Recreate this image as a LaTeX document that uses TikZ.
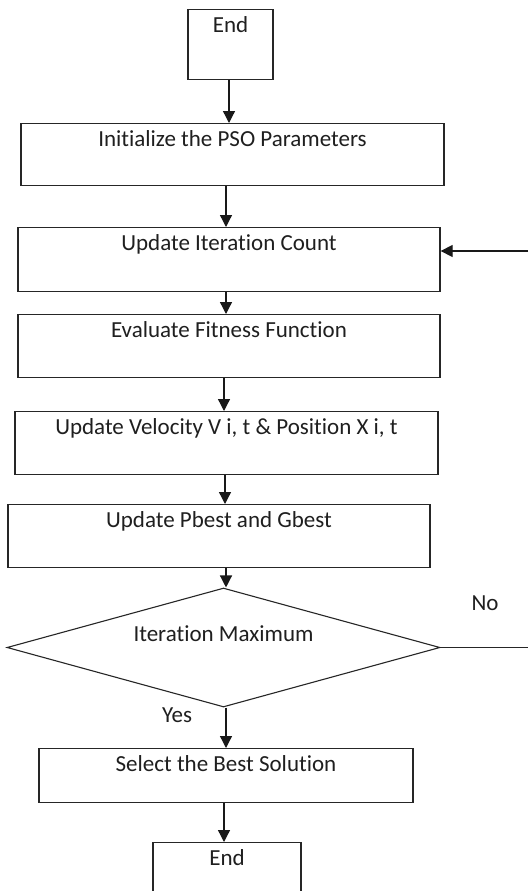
\documentclass[tikz,border=0pt]{standalone}
\usepackage{fontspec}
\setmainfont{Carlito}[Ligatures={NoCommon}]
\usetikzlibrary{arrows.meta,shapes.geometric}
\begin{document}
\begin{tikzpicture}[x=1pt,y=-1pt,
  every node/.style={font=\fontsize{23}{27}\selectfont, text=black!88},
  stepbox/.style={draw=black!85, line width=1.3pt, inner sep=0pt, text height=23pt, anchor=north},
  decision/.style={draw=black!85, line width=1.1pt, shape=diamond, inner sep=0pt, aspect=3.64, text height=16pt, text depth=28pt},
  flow/.style={draw=black!90, line width=1.3pt, -{Triangle[length=12pt,width=12pt]}},
  plain/.style={draw=black!85, line width=1.3pt}]
\useasboundingbox (0,0) rectangle (528,891);
\clip (0,0) rectangle (528,891);
\fill[white] (0,0) rectangle (528,891);

\coordinate (spine) at (226,0);
\coordinate (spineA) at (229,0);

\node[stepbox, minimum width=85pt, text depth=47pt] (b1) at (230.5,9) {End};
\node[stepbox, minimum width=423pt, text depth=39pt] (b2) at (232.5,123) {Initialize the PSO Parameters};
\node[stepbox, minimum width=422pt, text depth=41pt] (b3) at (229,227) {Update Iteration Count};
\node[stepbox, minimum width=422pt, text depth=40pt] (b4) at (229,314) {Evaluate Fitness Function};
\node[stepbox, minimum width=423pt, text depth=40pt] (b5) at (226.5,411) {Update Velocity V i, t \& Position X i, t};
\node[stepbox, minimum width=422pt, text depth=40pt] (b6) at (219,504) {Update Pbest and Gbest};
\node[decision, minimum width=433pt, minimum height=119pt] (d1) at (223.5,647.5) {Iteration Maximum};
\node[stepbox, minimum width=374pt, text depth=31pt] (b7) at (226,748) {Select the Best Solution};
\node[stepbox, minimum width=148pt, text depth=37pt] (b8) at (227,842) {End};

\node (no) at (485,603) {No};
\node (yes) at (177,715) {Yes};

\coordinate (fbin) at (528,251);
\coordinate (fbout) at (528,647.5);

\draw[flow] (b1.south -| spineA) -- (b2.north -| spineA);
\draw[flow] (b2.south -| spine) -- (b3.north -| spine);
\draw[flow] (b3.south -| spine) -- (b4.north -| spine);
\draw[flow] ([xshift=-2pt]b4.south -| spine) -- ([xshift=-2pt]b5.north -| spine);
\draw[flow] ([xshift=-1pt]b5.south -| spine) -- ([xshift=-1pt]b6.north -| spine);
\draw[flow] (b6.south -| spine) -- (d1.north -| spine);
\draw[flow] (d1.south -| spine) -- (b7.north -| spine);
\draw[flow] ([xshift=-2pt]b7.south -| spine) -- ([xshift=-2pt]b8.north -| spine);

\draw[plain] (d1.east) -- (fbout);
\draw[flow] (fbin) -- (b3.east |- fbin);
\end{tikzpicture}
\end{document}
